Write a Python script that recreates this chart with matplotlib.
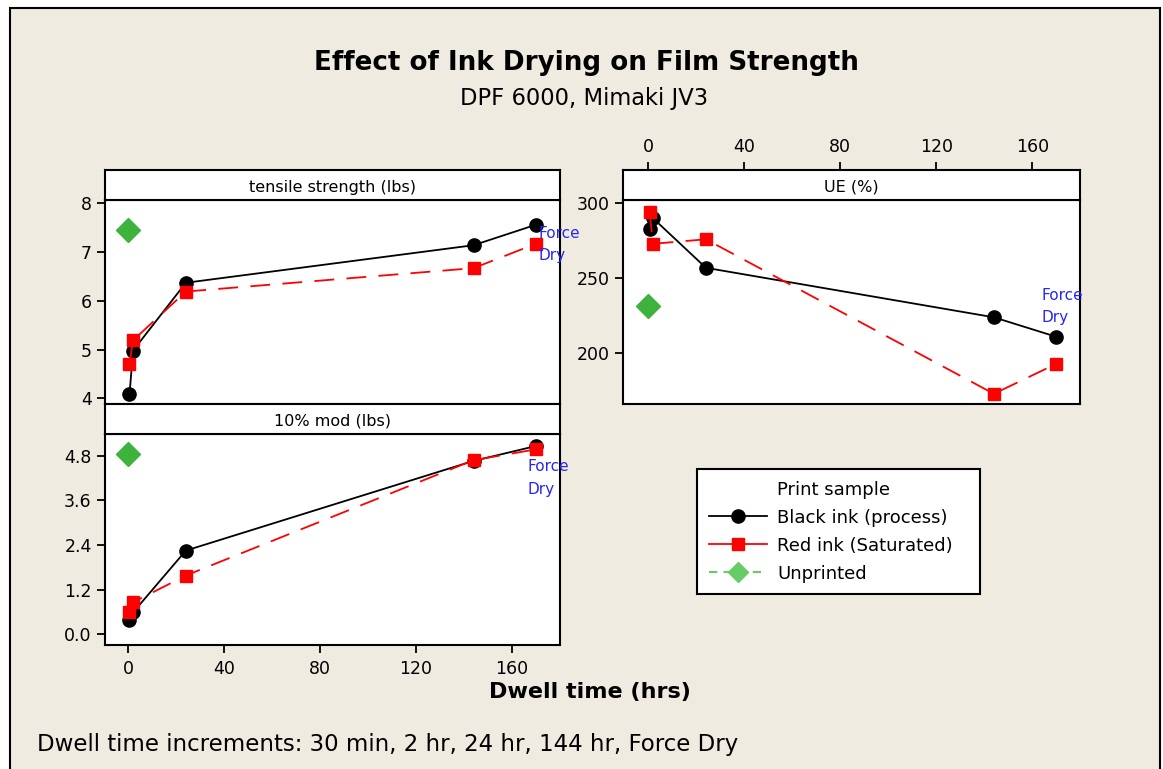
import matplotlib
matplotlib.use("Agg")
import matplotlib.pyplot as plt
from matplotlib.lines import Line2D
from matplotlib.patches import Rectangle

plt.rcParams['font.family'] = ['DejaVu Sans']

W, H = 1163, 769

# data
dwell = [0.5, 2, 24, 144, 170]
unprinted_x = [0]

tensile_black = [4.08, 4.98, 6.37, 7.14, 7.56]
tensile_red = [4.70, 5.19, 6.19, 6.67, 7.17]
tensile_unprinted = [7.45]

mod_black = [0.38, 0.59, 2.25, 4.66, 5.06]
mod_red = [0.61, 0.86, 1.58, 4.68, 4.97]
mod_unprinted = [4.85]

ue_black = [283, 290, 257, 224, 211]
ue_red = [294, 273, 276, 173, 193]
ue_unprinted = [231.5]

xticks = [0, 40, 80, 120, 160]
BEIGE = '#EFEBE1'
BLUE = '#2626F5'
GREEN = '#3DB23D'


def px(x0, y0, x1, y1):
    return [x0 / W, 1 - y1 / H, (x1 - x0) / W, (y1 - y0) / H]


fig = plt.figure(figsize=(W / 100, H / 100), dpi=100, facecolor='white')
fig.patches.append(Rectangle((10 / W, -0.05), 1150 / W, 1 - 8 / H + 0.05,
                             transform=fig.transFigure, facecolor=BEIGE,
                             edgecolor='black', linewidth=1.5, zorder=-10))


def style(ax):
    for s in ax.spines.values():
        s.set_linewidth(1.5)
    ax.tick_params(width=1.3, length=6, labelsize=12.5, direction='out')


def strip(rect, label, xlim):
    s = fig.add_axes(rect)
    s.set_facecolor('white')
    s.set_xlim(xlim)
    s.set_yticks([])
    s.set_xticks([])
    style(s)
    s.text(0.5, 0.42, label, transform=s.transAxes, ha='center', va='center', fontsize=11.5)
    return s


def panel(ax, yb, yr, yu, xlim, ylim, yticks, ylabels, note_xy):
    ax.set_facecolor('white')
    ax.plot(dwell, yb, color='black', lw=1.3, marker='o', ms=9.5, zorder=3)
    ax.plot(dwell, yr, color='red', lw=1.3, dashes=(11, 6.8), marker='s', ms=8,
            mec='red', zorder=4)
    ax.plot(unprinted_x, yu, color=GREEN, ls='none', marker='D', ms=12, zorder=4)
    ax.set_xlim(xlim)
    ax.set_ylim(ylim)
    ax.set_yticks(yticks)
    ax.set_yticklabels(ylabels)
    ax.text(note_xy[0], note_xy[1], 'Force\nDry', color=BLUE, fontsize=11,
            ha='left', va='center', linespacing=1.6, clip_on=False, zorder=5)
    style(ax)


xlim_left = ((105 - 128.3) / 2.3975, (560 - 128.3) / 2.3975)
xlim_right = ((623 - 648.3) / 2.4, (1080 - 648.3) / 2.4)

# tensile strength
ax1 = fig.add_axes(px(105, 200, 560, 404))
panel(ax1, tensile_black, tensile_red, tensile_unprinted, xlim_left,
      (8 - (404 - 203.3) / 48.75, 8 + 3.3 / 48.75),
      [4, 5, 6, 7, 8], ['4', '5', '6', '7', '8'], (171, 7.16))
ax1.set_xticks([])
strip(px(105, 170, 560, 200), 'tensile strength (lbs)', xlim_left)

# 10% mod
ax2 = fig.add_axes(px(105, 434, 560, 645))
panel(ax2, mod_black, mod_red, mod_unprinted, xlim_left,
      (-(645 - 634.3) / 37.2, 4.8 + (455.7 - 434) / 37.2),
      [0, 1.2, 2.4, 3.6, 4.8], ['0.0', '1.2', '2.4', '3.6', '4.8'], (166.5, 4.2))
ax2.set_xticks(xticks)
ax2.tick_params(axis='x', pad=5)
strip(px(105, 404, 560, 434), '10% mod (lbs)', xlim_left)

# UE
ax3 = fig.add_axes(px(623, 200, 1080, 404))
panel(ax3, ue_black, ue_red, ue_unprinted, xlim_right,
      (300 - (404 - 203.3) / 1.5, 300 + 3.3 / 1.5),
      [200, 250, 300], ['200', '250', '300'], (164, 231))
ax3.set_xticks([])
s3 = strip(px(623, 170, 1080, 200), 'UE (%)', xlim_right)
s3.set_xticks(xticks)
s3.xaxis.tick_top()
s3.tick_params(axis='x', labelsize=12.5, width=1.3, length=6, pad=4)

# titles and notes
fig.text(586 / W, 1 - 63 / H, 'Effect of Ink Drying on Film Strength',
         ha='center', va='center', fontsize=18.8, fontweight='bold')
fig.text(584 / W, 1 - 98 / H, 'DPF 6000, Mimaki JV3', ha='center', va='center', fontsize=16.3)
fig.text(590 / W, 1 - 692 / H, 'Dwell time (hrs)', ha='center', va='center',
         fontsize=16, fontweight='bold')
fig.text(37 / W, 1 - 745 / H,
         'Dwell time increments: 30 min, 2 hr, 24 hr, 144 hr, Force Dry',
         ha='left', va='center', fontsize=16.5)

# legend
handles = [
    Line2D([], [], ls='none'),
    Line2D([], [], color='black', lw=1.3, marker='o', ms=9.5),
    Line2D([], [], color='red', lw=1.3, marker='s', ms=8),
    Line2D([], [], color='#66CC66', lw=1.5, dashes=(4, 3), marker='D', ms=10),
]
labels = ['Print sample', 'Black ink (process)', 'Red ink (Saturated)', 'Unprinted']
leg = fig.legend(handles, labels, loc='upper left', mode='expand',
                 bbox_to_anchor=(697 / W, 1 - 586 / H, 283 / W, 117 / H), fontsize=13,
                 frameon=True, fancybox=False, edgecolor='black', framealpha=1,
                 handlelength=3.2, handletextpad=0.6, labelspacing=0.55,
                 borderpad=0.65, borderaxespad=0)
leg.get_frame().set_linewidth(1.5)

fig.savefig('out.png', dpi=100, facecolor='white')
